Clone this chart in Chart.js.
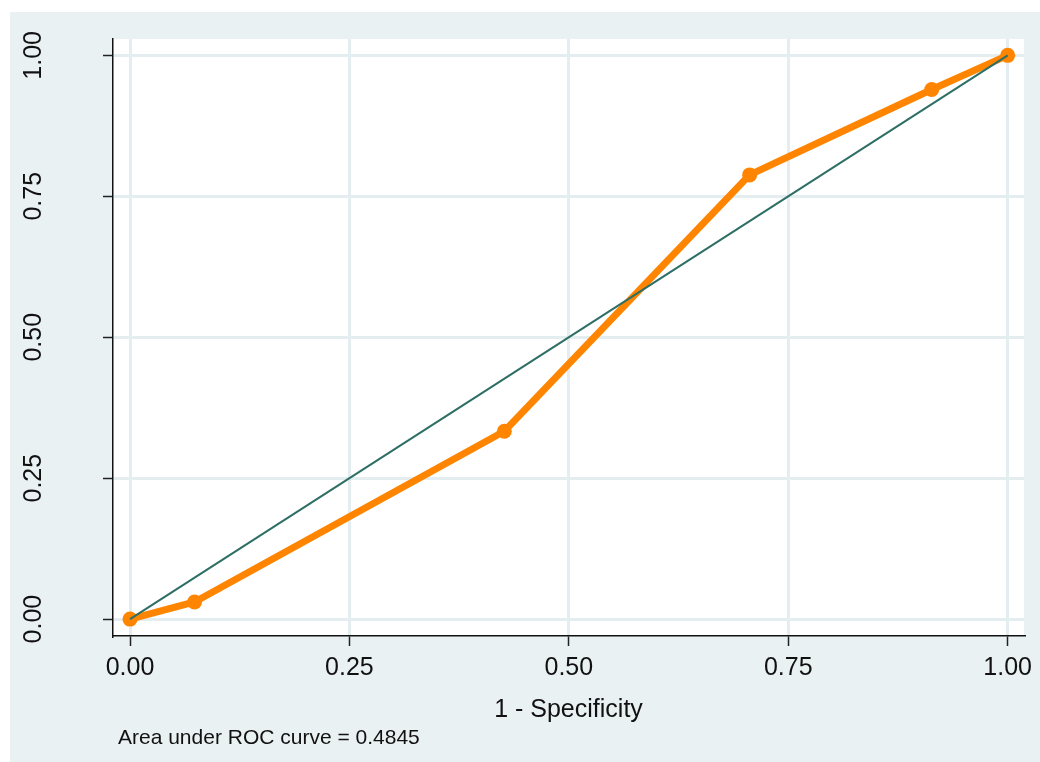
<!DOCTYPE html>
<html>
<head>
<meta charset="utf-8">
<title>ROC curve</title>
<script src="https://cdn.jsdelivr.net/npm/chart.js@4.4.1/dist/chart.umd.min.js"></script>
<style>
  html, body { margin: 0; padding: 0; background: #ffffff; }
  canvas { display: block; }
</style>
</head>
<body>
<canvas id="roc" width="1040" height="762"></canvas>
<script>
// ROC points: 1 - specificity (x) and sensitivity (y)
const falsePosRate = [0, 0.0735, 0.4265, 0.706, 0.9135, 1];
const sensitivity  = [0, 0.0303, 0.3333, 0.7879, 0.9394, 1];
// Reference (chance) line
const refX = [0, 1];
const refY = [0, 1];
// Tick values shared by both axes
const tickValues = [0, 0.25, 0.5, 0.75, 1];
const xTitle = '1 - Specificity';
const aucNote = 'Area under ROC curve = 0.4845';

const FONT = 'Arial, "Liberation Sans", Helvetica, sans-serif';
const BG = '#eaf1f3';
const GRID = '#e4edef';

const toPoints = (xs, ys) => xs.map((x, i) => ({ x: x, y: ys[i] }));

const backgroundPlugin = {
  id: 'panelBackground',
  beforeDraw(chart) {
    const { ctx, chartArea: a } = chart;
    ctx.save();
    ctx.fillStyle = '#ffffff';
    ctx.fillRect(0, 0, chart.width, chart.height);
    ctx.fillStyle = BG;
    ctx.fillRect(10, 12, chart.width - 10, chart.height - 12);
    ctx.fillStyle = '#ffffff';
    ctx.fillRect(a.left, a.top, a.right - a.left, a.bottom - a.top);
    ctx.restore();
  }
};

const notePlugin = {
  id: 'aucNote',
  afterDraw(chart) {
    const { ctx } = chart;
    ctx.save();
    ctx.font = '21px ' + FONT;
    ctx.fillStyle = '#111111';
    ctx.textAlign = 'left';
    ctx.textBaseline = 'alphabetic';
    ctx.fillText(aucNote, 118, 744);
    ctx.restore();
  }
};

const fixedTicks = (scale) => {
  scale.ticks = tickValues.map(v => ({ value: v }));
};

new Chart(document.getElementById('roc'), {
  type: 'line',
  data: {
    datasets: [
      {
        data: toPoints(refX, refY),
        borderColor: '#2d6e65',
        borderWidth: 2,
        pointRadius: 0,
        fill: false,
        order: 0
      },
      {
        data: toPoints(falsePosRate, sensitivity),
        borderColor: '#ff8500',
        backgroundColor: '#ff8500',
        borderWidth: 7,
        pointRadius: 7.5,
        pointBorderWidth: 0,
        pointBackgroundColor: '#ff8500',
        fill: false,
        order: 1
      }
    ]
  },
  options: {
    responsive: false,
    animation: false,
    events: [],
    layout: { padding: { left: 0, top: 39, right: 16, bottom: 0 } },
    plugins: {
      legend: { display: false },
      tooltip: { enabled: false },
      title: { display: false }
    },
    scales: {
      x: {
        type: 'linear',
        min: -0.0194,
        max: 1.0186,
        afterBuildTicks: fixedTicks,
        afterFit(scale) {
          scale.height = 126;
          scale.paddingLeft = 0;
          scale.paddingRight = 0;
        },
        grid: {
          color: GRID,
          lineWidth: 3,
          drawTicks: true,
          tickLength: 10,
          tickColor: '#222222',
          tickWidth: 1.5
        },
        border: { display: true, color: '#111111', width: 1.5 },
        ticks: {
          color: '#111111',
          font: { family: FONT, size: 25 },
          padding: 7,
          maxRotation: 0,
          callback: (v) => v.toFixed(2)
        },
        title: {
          display: true,
          text: xTitle,
          color: '#111111',
          font: { family: FONT, size: 25 },
          padding: { top: 0, bottom: 37 }
        }
      },
      y: {
        type: 'linear',
        min: -0.030,
        max: 1.029,
        afterBuildTicks: fixedTicks,
        afterFit(scale) {
          scale.width = 113;
          scale.paddingTop = 0;
          scale.paddingBottom = 0;
        },
        grid: {
          color: GRID,
          lineWidth: 3,
          drawTicks: true,
          tickLength: 10,
          tickColor: '#222222',
          tickWidth: 1.5
        },
        border: { display: true, color: '#111111', width: 1.5 },
        ticks: {
          color: '#111111',
          font: { family: FONT, size: 25 },
          padding: 45,
          minRotation: 90,
          maxRotation: 90,
          crossAlign: 'center',
          callback: (v) => v.toFixed(2)
        }
      }
    }
  },
  plugins: [backgroundPlugin, notePlugin]
});
</script>
</body>
</html>
